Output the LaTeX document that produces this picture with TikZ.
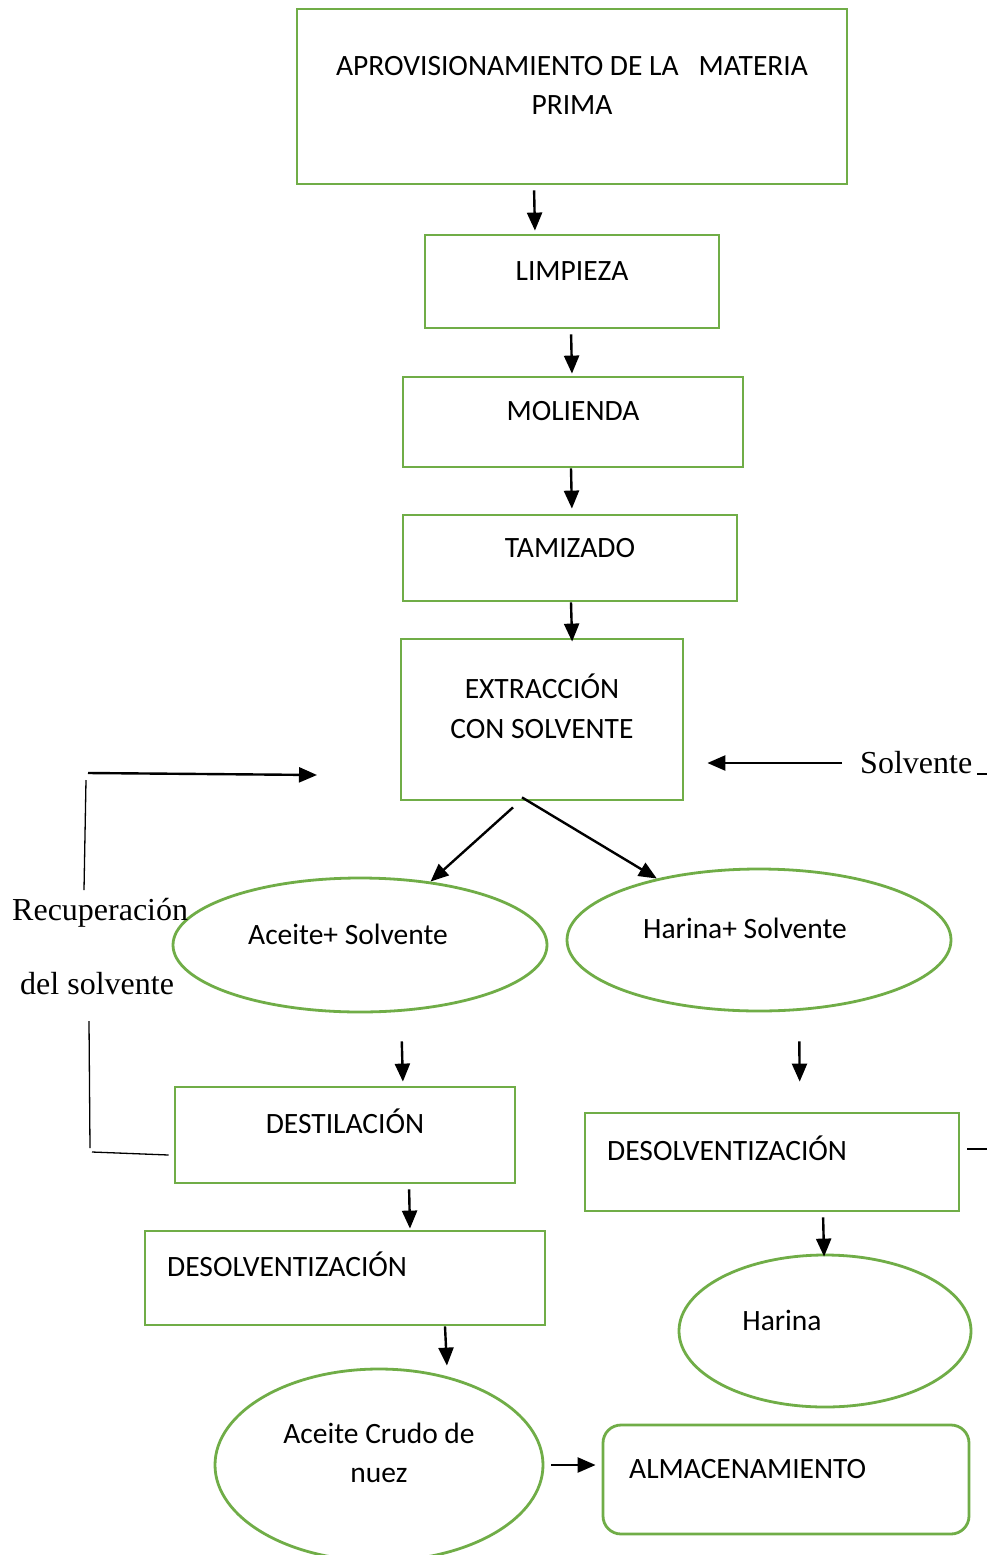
\documentclass[tikz,border=0pt]{standalone}
\usepackage{fontspec}
\setmainfont{Carlito}
\newfontfamily\tms{Liberation Serif}
\usetikzlibrary{arrows.meta,shapes.geometric}
\definecolor{leaf}{HTML}{70AD47}
\begin{document}
\begin{tikzpicture}[x=1pt,y=-1pt,
  box/.style={draw=leaf,line width=2.8pt,inner sep=0pt,rectangle},
  oval/.style={draw=leaf,line width=2.8pt,inner sep=0pt,ellipse},
  lbl/.style={inner sep=0pt,font=\fontsize{29.5}{35}\selectfont},
  serif/.style={inner sep=0pt,font=\tms\fontsize{32}{38}\selectfont},
  arr/.style={line width=2.4pt,-{Triangle[length=18pt,width=15pt]}},
  thinline/.style={line width=1.3pt}]
\useasboundingbox[fill=white] (0,0) rectangle (987,1555);

% process boxes
\node[box,minimum width=550,minimum height=175] (b1) at (572,96.5) {};
\node[box,minimum width=294,minimum height=93]  (b2) at (572,281.5) {};
\node[box,minimum width=340,minimum height=90]  (b3) at (573,422) {};
\node[box,minimum width=334,minimum height=86]  (b4) at (570,558) {};
\node[box,minimum width=282,minimum height=161] (b5) at (542,719.5) {};
\node[box,minimum width=340,minimum height=96]  (b6) at (345,1135) {};
\node[box,minimum width=374,minimum height=98]  (b7) at (772,1162) {};
\node[box,minimum width=400,minimum height=94]  (b8) at (345,1278) {};
\node[box,rounded corners=18pt,minimum width=366,minimum height=109] (b9) at (786,1479.5) {};

% product ellipses
\node[oval,minimum width=374,minimum height=134] (e1) at (360,945) {};
\node[oval,minimum width=384,minimum height=142] (e2) at (759,940) {};
\node[oval,minimum width=292,minimum height=152] (e3) at (825,1331) {};
\node[oval,minimum width=328,minimum height=192] (e4) at (379,1465) {};

% labels
\node[lbl,anchor=base] (t1a) at (572,75) {APROVISIONAMIENTO DE LA\ \ \ MATERIA};
\node[lbl,anchor=base] (t1b) at (572,114) {PRIMA};
\node[lbl,anchor=base] (t2) at (572,280) {LIMPIEZA};
\node[lbl,anchor=base] (t3) at (573,420) {MOLIENDA};
\node[lbl,anchor=base] (t4) at (570,557) {TAMIZADO};
\node[lbl,anchor=base] (t5a) at (542,698) {EXTRACCIÓN};
\node[lbl,anchor=base] (t5b) at (542,738) {CON SOLVENTE};
\node[lbl,anchor=base] (te1) at (348,944) {Aceite+ Solvente};
\node[lbl,anchor=base] (te2) at (745,938) {Harina+ Solvente};
\node[lbl,anchor=base] (t6) at (345,1133) {DESTILACIÓN};
\node[lbl,anchor=base west] (t7) at (607,1160) {DESOLVENTIZACIÓN};
\node[lbl,anchor=base west] (t8) at (167,1276) {DESOLVENTIZACIÓN};
\node[lbl,anchor=base] (te3) at (782,1330) {Harina};
\node[lbl,anchor=base] (te4a) at (379,1443) {Aceite Crudo de};
\node[lbl,anchor=base] (te4b) at (379,1482) {nuez};
\node[lbl,anchor=base west] (t9) at (629,1478) {ALMACENAMIENTO};

\node[serif,anchor=base west] (solv) at (860,773) {Solvente};
\node[serif,anchor=base west] (rec1) at (12,920) {Recuperación};
\node[serif,anchor=base west] (rec2) at (20,994) {del solvente};

% trailing rule after the solvent label
\draw[line width=1.4pt] ([xshift=5pt]solv.base east) ++(0,1) -- (987,774);

% main flow
\draw[arr,shorten <=5pt,shorten >=3pt] (b1.south -| 534,0) -- (b2.north -| 535,0);
\draw[arr,shorten <=5pt,shorten >=2pt] (b2.south -| 571,0) -- (b3.north -| 572,0);
\draw[arr,shorten >=5pt] (b3.south -| 571,0) -- (b4.north -| 572,0);
\draw[arr,shorten >=-4pt] (b4.south -| 571,0) -- (b5.north -| 572,0);
\draw[arr] ([shift={(-29,6)}]b5.south) -- (e1);
\draw[arr] ([shift={(-20,-4)}]b5.south) -- (e2);
\draw[arr,shorten <=28pt,shorten >=4pt] (e1.south -| 401,0) -- (b6.north -| 403,0);
\draw[arr,shorten <=29pt,shorten >=30pt] (e2.south -| 799,0) -- (b7.north -| 800,0);
\draw[arr,shorten <=5pt,shorten >=1pt] (b6.south -| 409,0) -- (b8.north -| 410,0);
\draw[arr,shorten <=5pt,shorten >=-3pt] (b7.south -| 823,0) -- (e3.north -| 824,0);
\draw[arr,shorten >=2pt] (b8.south -| 445,0) -- (e4.north -| 447,0);
\draw[arr,shorten <=7pt,shorten >=6pt] (e4.east) -- (b9.west |- e4.east);

% solvent feed
\coordinate (sIn) at (842,763);
\draw[arr,shorten >=23pt] (sIn) -- (b5.east |- sIn);

% solvent recovery loop
\coordinate (r1) at (88,773);
\coordinate (r2) at (317,775);
\draw[arr] (r1) -- (r2);
\coordinate (r3) at (86,780);
\coordinate (r4) at (84,890);
\draw[thinline] (r3) -- (r4);
\coordinate (r5) at (89,1021);
\coordinate (r6) at (90,1148);
\draw[thinline] (r5) -- (r6);
\coordinate (r7) at (92,1152);
\draw[thinline] (r7) -- ([xshift=-5pt]b6.west |- 0,1155);

% stub right of the second desolventising step
\coordinate (q1) at (987,1149);
\draw[line width=1.8pt] ([xshift=7pt]b7.east |- q1) -- (q1);
\end{tikzpicture}
\end{document}
